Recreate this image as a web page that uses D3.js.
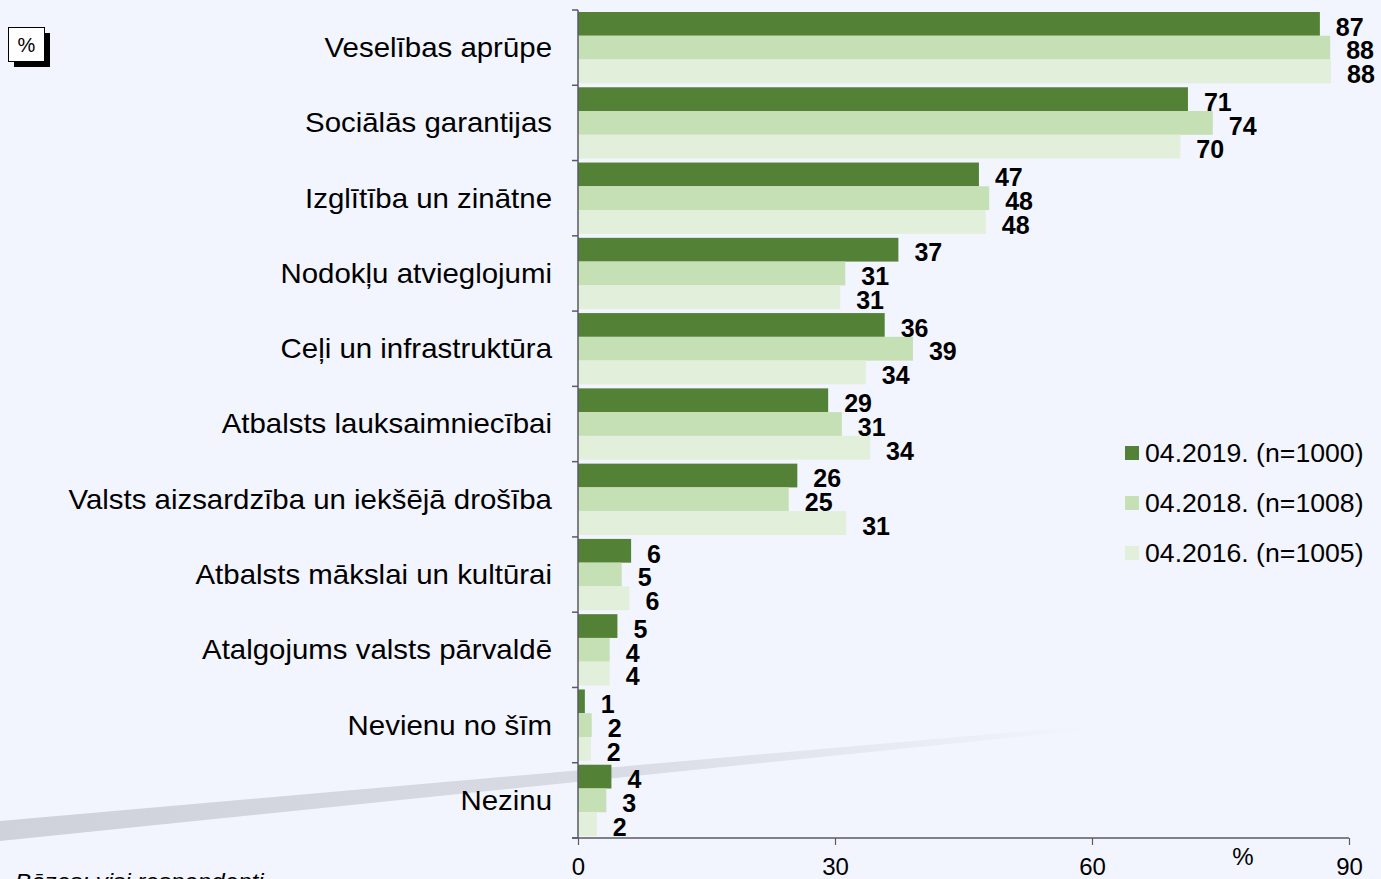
<!DOCTYPE html>
<html lang="lv">
<head>
  <meta charset="UTF-8" />
  <title>Prioritātes</title>
  <style>
    html, body {
      margin: 0;
      padding: 0;
      background: #f2f4fe;
      font-family: Arial, "Liberation Sans", sans-serif;
    }
    svg { display: block; }
  </style>
</head>
<body>
<svg id="chart" width="1381" height="879"></svg>

<script src="https://d3js.org/d3.v7.min.js"></script>
<script>
  const categories = [
    "Veselības aprūpe",
    "Sociālās garantijas",
    "Izglītība un zinātne",
    "Nodokļu atvieglojumi",
    "Ceļi un infrastruktūra",
    "Atbalsts lauksaimniecībai",
    "Valsts aizsardzība un iekšējā drošība",
    "Atbalsts mākslai un kultūrai",
    "Atalgojums valsts pārvaldē",
    "Nevienu no šīm",
    "Nezinu"
  ];
  const seriesNames = ["04.2019. (n=1000)", "04.2018. (n=1008)", "04.2016. (n=1005)"];
  const values2019 = [86.6, 71.2, 46.8, 37.4, 35.8, 29.2, 25.6, 6.2, 4.6, 0.8, 3.9];
  const values2018 = [87.8, 74.1, 48.0, 31.2, 39.1, 30.8, 24.6, 5.1, 3.7, 1.6, 3.3];
  const values2016 = [87.9, 70.3, 47.6, 30.6, 33.6, 34.1, 31.3, 6.0, 3.7, 1.5, 2.2];
  const xTicks = [0, 30, 60, 90];

  const seriesValues = [values2019, values2018, values2016];
  const colors = ["#538135", "#c5e0b4", "#e2efda"];

  const svg = d3.select("#chart");

  // decorative diagonal stripe in the background
  const grad = svg.append("defs").append("linearGradient")
    .attr("id", "stripe").attr("x1", "0").attr("x2", "1").attr("y1", "0").attr("y2", "0");
  grad.append("stop").attr("offset", "0").attr("stop-color", "#cfd2db");
  grad.append("stop").attr("offset", "0.55").attr("stop-color", "#d8dbe4");
  grad.append("stop").attr("offset", "1").attr("stop-color", "#f2f4fe");
  svg.append("path")
    .attr("d", "M0,821 L1095,725 L1095,729 L0,841 Z")
    .attr("fill", "url(#stripe)");

  const x = d3.scaleLinear().domain([0, 90]).range([578, 1349]);
  const y = d3.scaleBand().domain(categories).range([10, 838]);
  const step = y.bandwidth();
  const yInner = d3.scaleBand().domain(d3.range(3)).range([2, step - 2]);

  // bars
  const groups = svg.append("g").selectAll("g")
    .data(categories)
    .join("g")
    .attr("transform", d => `translate(0,${y(d)})`);

  groups.each(function(cat, ci) {
    const g = d3.select(this);
    seriesValues.forEach((vals, si) => {
      g.append("rect")
        .attr("x", x(0))
        .attr("y", yInner(si))
        .attr("width", x(vals[ci]) - x(0))
        .attr("height", yInner.bandwidth())
        .attr("fill", colors[si]);
    });
  });

  // value labels
  groups.each(function(cat, ci) {
    const g = d3.select(this);
    seriesValues.forEach((vals, si) => {
      g.append("text")
        .attr("x", x(vals[ci]) + 16)
        .attr("y", yInner(si) + yInner.bandwidth() / 2 + 3)
        .attr("dy", "0.35em")
        .attr("font-size", "25px")
        .attr("font-weight", "bold")
        .attr("fill", "#000")
        .text(d3.format(".0f")(vals[ci]));
    });
  });

  // category labels (slightly stretched like the original)
  svg.append("g").selectAll("text")
    .data(categories)
    .join("text")
    .attr("transform", d => `translate(552,${y(d) + step / 2}) scale(1.09,1)`)
    .attr("dy", "0.35em")
    .attr("text-anchor", "end")
    .attr("font-size", "27px")
    .attr("fill", "#000")
    .text(d => d);

  // y axis line with ticks at band edges
  const axisColor = "#5a5a64";
  svg.append("line")
    .attr("x1", x(0)).attr("x2", x(0))
    .attr("y1", 10).attr("y2", 838)
    .attr("stroke", axisColor).attr("stroke-width", 1.5);
  svg.append("g").selectAll("line")
    .data(d3.range(categories.length + 1))
    .join("line")
    .attr("x1", x(0) - 6).attr("x2", x(0))
    .attr("y1", i => 10 + i * step).attr("y2", i => 10 + i * step)
    .attr("stroke", axisColor).attr("stroke-width", 1.5);

  // x axis
  const xAxis = svg.append("g")
    .attr("transform", "translate(0,838)")
    .call(d3.axisBottom(x).tickValues(xTicks).tickSize(7).tickPadding(13).tickSizeOuter(0));
  xAxis.select(".domain").attr("stroke", axisColor).attr("stroke-width", 1.5)
    .attr("d", `M${x(0) - 6},0H${x(90)}`);
  xAxis.selectAll(".tick line").attr("stroke", axisColor).attr("stroke-width", 1.2);
  xAxis.selectAll(".tick text")
    .attr("font-family", "'Liberation Sans Narrow', 'Arial Narrow', Arial, sans-serif")
    .attr("font-size", "24px")
    .attr("fill", "#000");

  svg.append("text")
    .attr("x", 1243).attr("y", 865)
    .attr("text-anchor", "middle")
    .attr("font-family", "'Liberation Sans Narrow', 'Arial Narrow', Arial, sans-serif")
    .attr("font-size", "24px")
    .text("%");

  // legend
  const legend = svg.append("g").selectAll("g")
    .data(seriesNames)
    .join("g")
    .attr("transform", (d, i) => `translate(1125,${453 + i * 50})`);
  legend.append("rect")
    .attr("x", 0).attr("y", -7)
    .attr("width", 14).attr("height", 14)
    .attr("fill", (d, i) => colors[i]);
  legend.append("text")
    .attr("transform", "translate(20,0) scale(1.045,1)")
    .attr("dy", "0.35em")
    .attr("font-size", "25.5px")
    .attr("fill", "#000")
    .text(d => d);

  // "%" box top left
  svg.append("rect").attr("x", 14).attr("y", 33).attr("width", 36).attr("height", 34).attr("fill", "#000");
  svg.append("rect").attr("x", 8.5).attr("y", 27.5).attr("width", 36).attr("height", 34)
    .attr("fill", "#fff").attr("stroke", "#000").attr("stroke-width", 1);
  svg.append("text")
    .attr("x", 26.5).attr("y", 45)
    .attr("dy", "0.35em")
    .attr("text-anchor", "middle")
    .attr("font-size", "20px")
    .text("%");

  // base note, cut off at the bottom edge
  svg.append("text")
    .attr("transform", "translate(15,889) scale(1.1,1)")
    .attr("font-size", "22px")
    .attr("font-style", "italic")
    .text("Bāzes: visi respondenti");
</script>
</body>
</html>
